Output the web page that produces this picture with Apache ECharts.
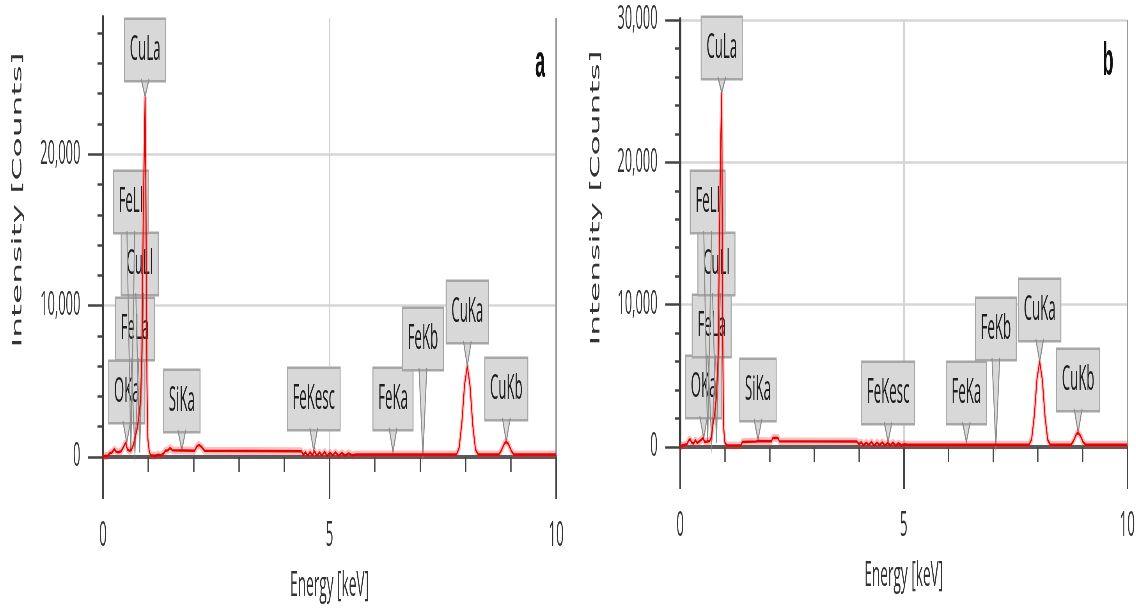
<!DOCTYPE html>
<html>
<head>
<meta charset="utf-8">
<script src="https://cdn.jsdelivr.net/npm/echarts@6/dist/echarts.min.js"></script>
<style>
  html, body { margin: 0; padding: 0; width: 1136px; height: 609px; overflow: hidden; background: #fff; }
  /* the chart is laid out wide and squeezed horizontally for the condensed look */
  #chart { width: 2913px; height: 609px; transform: scaleX(0.39); transform-origin: 0 0; }
</style>
</head>
<body>
<div id="chart"></div>
<script>
// ---- EDS spectrum (a): energy in keV, intensity in counts ----
const energyA = [0.00, 0.05, 0.10, 0.15, 0.20, 0.25, 0.29, 0.34, 0.40, 0.45, 0.50, 0.54, 0.58, 0.63, 0.67, 0.71, 0.75, 0.79, 0.83, 0.86, 0.89, 0.93, 0.95, 0.97, 0.99, 1.02, 1.05, 1.15, 1.22, 1.28, 1.34, 1.38, 1.44, 1.48, 1.53, 2.02, 2.07, 2.12, 2.18, 2.24, 4.38, 4.42, 4.47, 4.52, 4.57, 4.62, 4.67, 4.72, 4.78, 4.83, 4.89, 4.95, 5.01, 5.07, 5.13, 5.20, 5.27, 5.34, 5.42, 5.50, 5.58, 7.80, 7.86, 7.92, 7.98, 8.04, 8.10, 8.16, 8.22, 8.28, 8.74, 8.80, 8.86, 8.90, 8.95, 9.01, 9.07, 10.00];
const countsA = [0, 80, 60, 250, 300, 520, 350, 320, 380, 650, 950, 500, 420, 480, 800, 1300, 1800, 2600, 3800, 7000, 16000, 23800, 16000, 5000, 1200, 400, 120, 80, 150, 100, 250, 420, 450, 600, 450, 420, 700, 800, 650, 420, 380, 150, 300, 80, 320, 120, 380, 90, 300, 100, 340, 80, 280, 110, 300, 90, 260, 100, 240, 120, 160, 160, 600, 2300, 4800, 6000, 4700, 2100, 500, 160, 160, 500, 900, 1000, 850, 400, 160, 160];

// ---- EDS spectrum (b) ----
const energyB = [0.00, 0.05, 0.10, 0.15, 0.19, 0.22, 0.26, 0.30, 0.34, 0.38, 0.43, 0.47, 0.51, 0.55, 0.60, 0.66, 0.70, 0.73, 0.77, 0.81, 0.85, 0.88, 0.91, 0.93, 0.95, 0.97, 1.00, 1.04, 1.20, 1.36, 1.39, 1.70, 1.75, 2.04, 2.07, 2.19, 2.22, 3.95, 4.00, 4.05, 4.10, 4.16, 4.22, 4.28, 4.34, 4.40, 4.46, 4.52, 4.58, 4.64, 4.70, 4.76, 4.82, 4.88, 4.95, 5.02, 5.08, 7.80, 7.86, 7.92, 7.98, 8.04, 8.10, 8.16, 8.22, 8.28, 8.74, 8.80, 8.86, 8.90, 8.95, 9.01, 9.07, 10.00];
const countsB = [0, 120, 150, 200, 450, 560, 300, 250, 480, 280, 400, 500, 630, 350, 380, 420, 700, 1500, 2300, 3500, 6500, 15000, 22000, 24900, 8000, 1500, 300, 130, 110, 130, 350, 380, 420, 400, 630, 630, 400, 380, 200, 330, 120, 300, 150, 350, 100, 310, 140, 330, 110, 280, 130, 300, 100, 260, 120, 200, 150, 150, 550, 2200, 4800, 6000, 4700, 2100, 500, 150, 150, 450, 900, 1000, 800, 350, 150, 150];

// ---- identified lines: name, energy (keV), intensity at the pointer tip ----
const lineNames  = ['OKa', 'FeLa', 'CuLl', 'FeLl', 'CuLa', 'SiKa', 'FeKesc', 'FeKa', 'FeKb', 'CuKa', 'CuKb'];
const lineEnergy = [0.525, 0.705, 0.811, 0.615, 0.93, 1.74, 4.65, 6.40, 7.06, 8.04, 8.90];
const tipCountsA = [950, 300, 300, 300, 23800, 450, 400, 330, 80, 6000, 1000];
const tipCountsB = [630, 300, 300, 300, 24900, 500, 350, 350, 50, 6000, 1000];

// ---- tick labels ----
const xTickLabels  = [0, 5, 10];
const yTickLabelsA = [0, 10000, 20000];
const yTickLabelsB = [0, 10000, 20000, 30000];
const yMaxA = 29000;
const yMaxB = 30000;

// ---- layout: height of each label box above the baseline, px ----
const boxLiftA = [35, 98, 163, 225, 377, 26, 28, 28, 88, 115, 38];
const boxLiftB = [30, 91, 153, 215, 369, 27, 24, 24, 88, 107, 37];

const FONT = 'Open Sans';
const INK = '#333';

function pairs(xs, ys) { return xs.map((x, i) => [x, ys[i]]); }

function bottomAxis(gridIndex) {
  return {
    type: 'value', gridIndex, position: 'bottom', min: 0, max: 10, interval: 5,
    name: 'Energy [keV]', nameLocation: 'middle', nameGap: 112,
    nameTextStyle: { fontFamily: FONT, fontSize: 35, color: INK },
    axisLine: { show: true, onZero: false, lineStyle: { color: '#4a4a4a', width: 2.5 } },
    axisTick: { show: true, inside: false, length: 42, lineStyle: { color: '#444', width: 4 } },
    minorTick: { show: true, splitNumber: 5, length: 15, lineStyle: { color: '#444', width: 3.5 } },
    axisLabel: { customValues: xTickLabels, margin: 62, fontFamily: FONT, fontSize: 34, color: INK },
    splitLine: { show: true, lineStyle: { color: ['#c8c8c8', '#d4d4d4', '#9a9a9a'], width: 4 } }
  };
}

function topBorder(gridIndex) {
  return {
    type: 'value', gridIndex, position: 'top', min: 0, max: 10,
    axisLine: { show: true, lineStyle: { color: '#5a5a5a', width: 4 } },
    axisTick: { show: false }, axisLabel: { show: false }, splitLine: { show: false }
  };
}

function leftAxis(gridIndex, max, labels) {
  return {
    type: 'value', gridIndex, min: 0, max, interval: 10000,
    axisLine: { show: true, lineStyle: { color: '#3c3c3c', width: 6 } },
    axisTick: { show: true, customValues: labels, length: 38, lineStyle: { color: '#444', width: 2.5 } },
    minorTick: { show: true, splitNumber: 5, length: 14, lineStyle: { color: '#444', width: 2.5 } },
    axisLabel: {
      customValues: labels, margin: 58, fontFamily: FONT, fontSize: 33, color: INK,
      formatter: v => Number(v).toLocaleString('en-US')
    },
    splitLine: { show: true, lineStyle: { color: '#d6d6d6', width: 2.5 } }
  };
}

// callout: grey box with the line name and a tail pointing to the energy;
// tail fills sit under every box, tail outlines over them
function calloutRenderer(params, api) {
  const tip = api.coord([api.value(0), api.value(1)]);
  const base = api.coord([api.value(0), 0]);
  const bottom = base[1] - api.value(2);
  const half = 10;
  return {
    type: 'group',
    children: [
      {
        type: 'polygon', z2: 0,
        shape: { points: [[tip[0] - half, bottom - 1], [tip[0] + half, bottom - 1], [tip[0], tip[1]]] },
        style: { fill: '#d8d8d8', stroke: null }
      },
      {
        type: 'text', x: tip[0], y: bottom, z2: 1,
        style: {
          text: lineNames[params.dataIndex], align: 'center', verticalAlign: 'bottom',
          fontFamily: FONT, fontSize: 34, fill: '#1e1e1e',
          backgroundColor: '#d8d8d8', borderColor: '#a6a6a6', borderWidth: 2.5, padding: [13, 12]
        }
      },
      {
        type: 'polyline', z2: 2,
        shape: { points: [[tip[0] - half, bottom - 1], [tip[0], tip[1]], [tip[0] + half, bottom - 1]] },
        style: { fill: null, stroke: '#8c8c8c', lineWidth: 2.5 }
      }
    ]
  };
}

function spectrumSeries(axisIndex, xs, ys) {
  return [
    {
      type: 'line', xAxisIndex: axisIndex, yAxisIndex: axisIndex, data: pairs(xs, ys),
      showSymbol: false, silent: true, z: 3,
      lineStyle: { color: 'rgba(255,40,40,0.3)', width: 8 }
    },
    {
      type: 'line', xAxisIndex: axisIndex, yAxisIndex: axisIndex, data: pairs(xs, ys),
      showSymbol: false, silent: true, z: 4,
      lineStyle: { color: '#e60000', width: 2.5 }
    }
  ];
}

function calloutSeries(axisIndex, tips, lifts) {
  return {
    type: 'custom', xAxisIndex: axisIndex, yAxisIndex: axisIndex, z: 2, clip: false, silent: true,
    data: lineEnergy.map((e, i) => [e, tips[i], lifts[i]]),
    encode: { x: 0, y: 1 },
    renderItem: calloutRenderer
  };
}

const chart = echarts.init(document.getElementById('chart'), null, { renderer: 'canvas' });
chart.setOption({
  animation: false,
  backgroundColor: '#ffffff',
  grid: [
    { left: 264, top: 18, width: 1162, height: 440 },
    { left: 1744, top: 20, width: 1149, height: 427 }
  ],
  xAxis: [bottomAxis(0), bottomAxis(1), topBorder(0), topBorder(1)],
  yAxis: [leftAxis(0, yMaxA, yTickLabelsA), leftAxis(1, yMaxB, yTickLabelsB)],
  graphic: [
    { type: 'text', x: 46, y: 200, rotation: Math.PI / 2,
      style: { text: 'Intensity [Counts]', fontFamily: 'DejaVu Sans', fontSize: 33, fill: INK, align: 'center', verticalAlign: 'middle' } },
    { type: 'text', x: 1528, y: 198, rotation: Math.PI / 2,
      style: { text: 'Intensity [Counts]', fontFamily: 'DejaVu Sans', fontSize: 33, fill: INK, align: 'center', verticalAlign: 'middle' } },
    { type: 'text', x: 1385, y: 64,
      style: { text: 'a', fontFamily: 'Liberation Sans', fontWeight: 'bold', fontSize: 46, fill: '#111', align: 'center', verticalAlign: 'middle' } },
    { type: 'text', x: 2841, y: 62,
      style: { text: 'b', fontFamily: 'Liberation Sans', fontWeight: 'bold', fontSize: 46, fill: '#111', align: 'center', verticalAlign: 'middle' } }
  ],
  series: [
    calloutSeries(0, tipCountsA, boxLiftA),
    calloutSeries(1, tipCountsB, boxLiftB),
    ...spectrumSeries(0, energyA, countsA),
    ...spectrumSeries(1, energyB, countsB)
  ]
});
</script>
</body>
</html>
